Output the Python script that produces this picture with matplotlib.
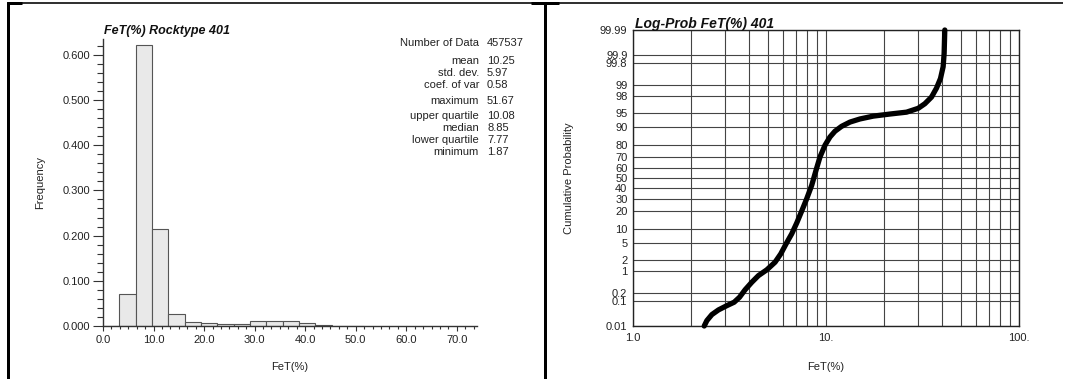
import math
import numpy as np
import matplotlib
matplotlib.use("Agg")
import matplotlib.pyplot as plt
from matplotlib.lines import Line2D
from matplotlib.ticker import MultipleLocator, FixedLocator, FixedFormatter, NullFormatter

plt.rcParams['font.family'] = ['Liberation Sans', 'DejaVu Sans']

# ---- Histogram data: FeT(%) rocktype 401 ----
bin_width = 3.23
bin_freq = [0.000, 0.070, 0.621, 0.214, 0.027, 0.009, 0.006, 0.004, 0.005,
            0.010, 0.011, 0.010, 0.006, 0.002, 0.001, 0.0005]

stat_labels = ["Number of Data", "mean", "std. dev.", "coef. of var",
               "maximum", "upper quartile", "median", "lower quartile", "minimum"]
stat_values = ["457537", "10.25", "5.97", "0.58",
               "51.67", "10.08", "8.85", "7.77", "1.87"]

# ---- Log-probability curve: FeT(%) vs cumulative probability (%) ----
curve_fet = [2.339, 2.414, 2.563, 2.774, 3.064, 3.343, 3.562, 3.811, 4.126,
             4.467, 4.933, 5.447, 5.829, 6.212, 6.645, 7.052, 7.483, 7.943,
             8.433, 8.878, 9.311, 9.881, 10.49, 11.13, 12.05, 13.31, 14.99,
             17.57, 21.43, 26.14, 30.03, 32.52, 35.21, 37.36, 39.19, 40.45,
             40.94, 41.26]
curve_prob = [0.01, 0.017, 0.030, 0.046, 0.067, 0.090, 0.136, 0.25, 0.44,
              0.71, 1.05, 1.72, 2.83, 4.9, 8.05, 12.9, 20.3, 30.1,
              42.7, 57.7, 70.2, 79.5, 84.9, 88.0, 90.3, 92.0, 93.1,
              94.0, 94.6, 95.1, 96.0, 96.9, 97.9, 98.8, 99.38, 99.74,
              99.913, 99.99]

prob_ticks = [0.01, 0.1, 0.2, 1, 2, 5, 10, 20, 30, 40, 50, 60, 70, 80, 90,
              95, 98, 99, 99.8, 99.9, 99.99]
prob_tick_labels = ["0.01", "0.1", "0.2", "1", "2", "5", "10", "20", "30", "40",
                    "50", "60", "70", "80", "90", "95", "98", "99", "99.8",
                    "99.9", "99.99"]
log_ticks = [1, 10, 100]
log_tick_labels = ["1.0", "10.", "100."]

TEXT = "#222222"
W, H = 1065, 379


def fx(px):
    return px / W


def fy(py):
    return 1 - py / H


# Normal quantile (Acklam) and CDF for the probability axis
_a = [-3.969683028665376e+01, 2.209460984245205e+02, -2.759285104469687e+02,
      1.383577518672690e+02, -3.066479806614716e+01, 2.506628277459239e+00]
_b = [-5.447609879822406e+01, 1.615858368580409e+02, -1.556989798598866e+02,
      6.680131188771972e+01, -1.328068155288572e+01]
_c = [-7.784894002430293e-03, -3.223964580411365e-01, -2.400758277161838e+00,
      -2.549732539343734e+00, 4.374664141464968e+00, 2.938163982698783e+00]
_d = [7.784695709041462e-03, 3.224671290700398e-01, 2.445134137142996e+00,
      3.754408661907416e+00]


def _ppf_scalar(p):
    p = min(max(p, 1e-12), 1 - 1e-12)
    plow = 0.02425
    if p < plow:
        q = math.sqrt(-2 * math.log(p))
        return (((((_c[0]*q+_c[1])*q+_c[2])*q+_c[3])*q+_c[4])*q+_c[5]) / \
               ((((_d[0]*q+_d[1])*q+_d[2])*q+_d[3])*q+1)
    if p > 1 - plow:
        q = math.sqrt(-2 * math.log(1 - p))
        return -(((((_c[0]*q+_c[1])*q+_c[2])*q+_c[3])*q+_c[4])*q+_c[5]) / \
               ((((_d[0]*q+_d[1])*q+_d[2])*q+_d[3])*q+1)
    q = p - 0.5
    r = q * q
    return (((((_a[0]*r+_a[1])*r+_a[2])*r+_a[3])*r+_a[4])*r+_a[5])*q / \
           (((((_b[0]*r+_b[1])*r+_b[2])*r+_b[3])*r+_b[4])*r+1)


def prob_forward(p):
    p = np.asarray(p, dtype=float)
    return np.vectorize(_ppf_scalar, otypes=[float])(p / 100.0)


def prob_inverse(z):
    z = np.asarray(z, dtype=float)
    return np.vectorize(lambda v: 50.0 * (1 + math.erf(v / math.sqrt(2))),
                        otypes=[float])(z)


fig = plt.figure(figsize=(W / 100, H / 100), dpi=100)

# ---------------- Left panel: histogram ----------------
ax1 = fig.add_axes([fx(103), fy(326), fx(477) - fx(103), fy(39) - fy(326)])
edges = np.arange(len(bin_freq)) * bin_width
ax1.bar(edges, bin_freq, width=bin_width, align='edge', color='#e9e9e9',
        edgecolor='#555555', linewidth=0.8, zorder=2)
ax1.set_xlim(0, 74)
ax1.set_ylim(0, 0.635)
for s in ('top', 'right'):
    ax1.spines[s].set_visible(False)
for s in ('left', 'bottom'):
    ax1.spines[s].set_linewidth(1.0)
    ax1.spines[s].set_color('#333333')
    ax1.spines[s].set_zorder(3)
ax1.xaxis.set_major_locator(MultipleLocator(10))
ax1.xaxis.set_minor_locator(MultipleLocator(10 / 6))
ax1.yaxis.set_major_locator(MultipleLocator(0.1))
ax1.yaxis.set_minor_locator(MultipleLocator(0.02))
ax1.xaxis.set_major_formatter(plt.FuncFormatter(lambda v, _: f"{v:.1f}"))
ax1.yaxis.set_major_formatter(plt.FuncFormatter(lambda v, _: f"{v:.3f}"))
ax1.tick_params(axis='y', which='major', direction='out', length=7.5, width=0.8,
                pad=2, labelsize=8, labelcolor=TEXT, color='#333333')
ax1.tick_params(axis='y', which='minor', direction='out', length=4, width=0.8,
                color='#333333')
ax1.tick_params(axis='x', which='major', direction='out', length=3.5, width=0.8,
                pad=3, labelsize=8, labelcolor=TEXT, color='#333333')
ax1.tick_params(axis='x', which='minor', direction='out', length=2.5, width=0.8,
                color='#333333')
ax1.set_xlabel("FeT(%)", fontsize=8, color=TEXT)
ax1.set_ylabel("Frequency", fontsize=8, color=TEXT)
ax1.xaxis.set_label_coords(0.5, -0.125)
ax1.yaxis.set_label_coords(-0.154, 0.5)
fig.text(fx(104), fy(31), "FeT(%) Rocktype 401", fontsize=9,
         fontweight='bold', fontstyle='italic', color='#111111',
         ha='left', va='center')

stat_rows_y = [43.5, 60.5, 72.5, 84.5, 101.5, 116, 128, 140, 152]
for lab, val, yy in zip(stat_labels, stat_values, stat_rows_y):
    fig.text(fx(479), fy(yy), lab, fontsize=8, color=TEXT,
             ha='right', va='center')
    fig.text(fx(487), fy(yy), val, fontsize=8, color=TEXT,
             ha='left', va='center')

# ---------------- Right panel: log-probability plot ----------------
ax2 = fig.add_axes([fx(633), fy(326), fx(1019) - fx(633), fy(30) - fy(326)])
ax2.set_xscale('log')
ax2.set_yscale('function', functions=(prob_forward, prob_inverse))
ax2.set_xlim(1, 100)
ax2.set_ylim(0.01, 99.99)
ax2.yaxis.set_major_locator(FixedLocator(prob_ticks))
ax2.yaxis.set_major_formatter(FixedFormatter(prob_tick_labels))
ax2.yaxis.set_minor_locator(FixedLocator([]))
ax2.xaxis.set_major_locator(FixedLocator(log_ticks))
ax2.xaxis.set_major_formatter(FixedFormatter(log_tick_labels))
ax2.xaxis.set_minor_locator(FixedLocator([2, 3, 4, 5, 6, 7, 8, 9,
                                          20, 30, 40, 50, 60, 70, 80, 90]))
ax2.xaxis.set_minor_formatter(NullFormatter())
ax2.grid(True, which='both', color='#444444', linewidth=0.8)
ax2.tick_params(which='both', length=0)
ax2.tick_params(axis='y', pad=4, labelsize=8, labelcolor=TEXT)
ax2.tick_params(axis='x', pad=5, labelsize=8, labelcolor=TEXT)
for s in ax2.spines.values():
    s.set_linewidth(1.0)
    s.set_color('#222222')
ax2.plot(curve_fet, curve_prob, color='black', linewidth=3.8,
         solid_capstyle='round', solid_joinstyle='round', zorder=5,
         clip_on=False)
ax2.set_xlabel("FeT(%)", fontsize=8, color=TEXT)
ax2.set_ylabel("Cumulative Probability", fontsize=8, color=TEXT)
ax2.xaxis.set_label_coords(0.5, -0.122)
ax2.yaxis.set_label_coords(-0.1516, 0.5)
fig.text(fx(635), fy(24), "Log-Prob FeT(%) 401", fontsize=10,
         fontweight='bold', fontstyle='italic', color='#111111',
         ha='left', va='center')

# ---------------- Page frame lines ----------------
def frame_line(x0, y0, x1, y1, lw_px):
    fig.add_artist(Line2D([fx(x0), fx(x1)], [fy(y0), fy(y1)],
                          transform=fig.transFigure, color='black',
                          linewidth=lw_px * 0.72, solid_capstyle='butt'))


frame_line(7, 3, 1063, 3, 1.6)
frame_line(7, 3, 22, 3, 3)
frame_line(531, 3, 559, 3, 3)
frame_line(8, 2, 8, 379, 3)
frame_line(545, 2, 545, 379, 3)

fig.savefig("out.png", dpi=100)
